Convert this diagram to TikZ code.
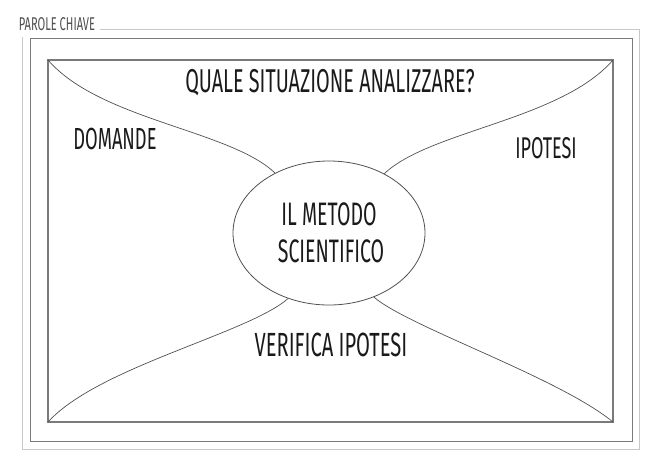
\documentclass[tikz,border=0pt]{standalone}
\usepackage{fontspec}
\setmainfont{Fira Sans}
\newfontfamily\handfont[FakeStretch=0.6]{Fira Sans}
\usetikzlibrary{shapes.geometric}
\definecolor{FrameLight}{HTML}{C8C8C8}
\definecolor{FrameGrey}{HTML}{7A7A7A}
\definecolor{LineGrey}{HTML}{505050}
\definecolor{InkBlack}{HTML}{1A1A1A}
\tikzset{
  keyword/.style={text=InkBlack,font=\handfont\fontsize{#1}{#1}\selectfont,inner sep=0pt,anchor=center},
  branch/.style={LineGrey,line width=0.7pt},
}

\begin{document}
\begin{tikzpicture}[x=1pt,y=-1pt]
    \useasboundingbox (0,0) rectangle (661,467);
    % frames
    \node[keyword=18.5,text=LineGrey] (title) at (57,24) {PAROLE CHIAVE};
    \draw[FrameLight,line width=0.8pt] (100,29) -- (639,29) -- (639,449) -- (22,449) -- (22,37);
    \draw[FrameGrey,line width=1pt] (30,38) rectangle (632,441);
    \draw[FrameGrey,line width=1.3pt] (48,60) rectangle (613,422);
    \coordinate (nw) at (48,60);
    \coordinate (ne) at (613,60);
    \coordinate (sw) at (48,422);
    \coordinate (se) at (613,422);
    % centre
    \node[ellipse,draw=LineGrey,line width=0.8pt,minimum width=192pt,minimum height=144pt,inner sep=0pt] (metodo) at (329,233) {};
    \node[keyword=32.5] (metodoA) at (329,214) {IL METODO};
    \node[keyword=32.5] (metodoB) at (331,251) {SCIENTIFICO};
    % branches
    \draw[branch] (nw) .. controls +(52,60) and +(-45,-43) .. (metodo.132);
    \draw[branch] (ne) .. controls +(-52,60) and +(45,-43) .. (metodo.47);
    \draw[branch] (sw) .. controls +(50,-55) and +(-40,35) .. (metodo.238);
    \draw[branch] (se) .. controls +(-55,-45) and +(35,30) .. (metodo.305);
    % keywords
    \node[keyword=33] (situazione) at (330,83) {QUALE SITUAZIONE ANALIZZARE?};
    \node[keyword=30.5] (domande) at (115,139) {DOMANDE};
    \node[keyword=30] (ipotesi) at (546,148) {IPOTESI};
    \node[keyword=33.5] (verifica) at (331,345) {VERIFICA IPOTESI};
\end{tikzpicture}
\end{document}
